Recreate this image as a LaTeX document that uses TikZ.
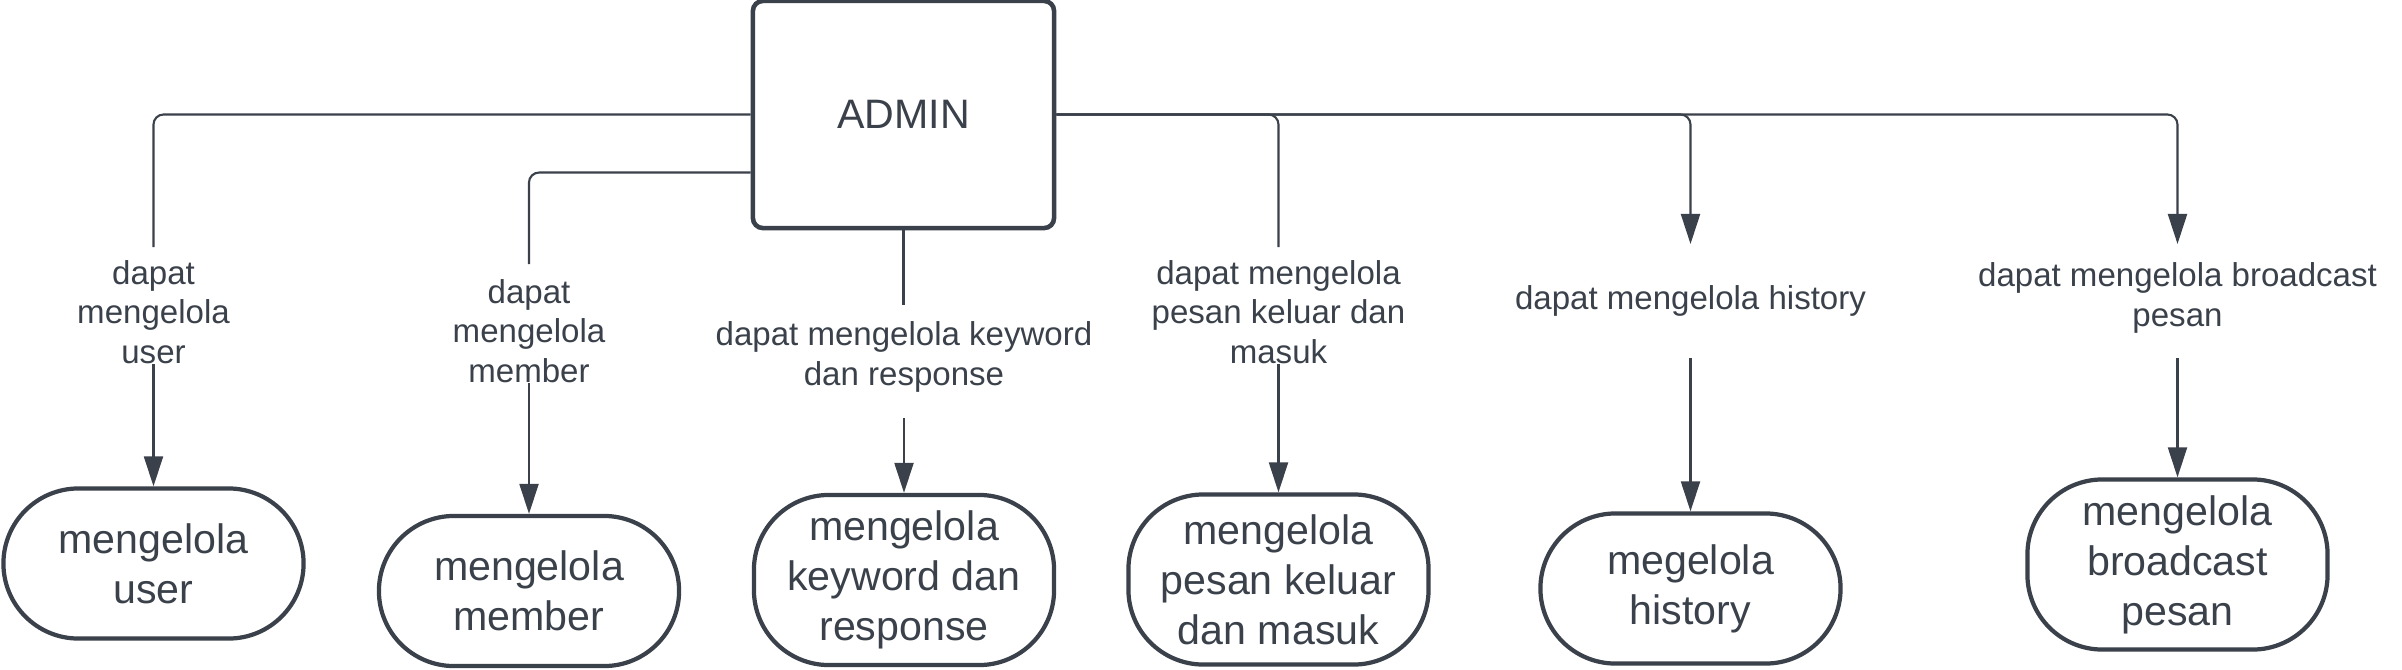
\documentclass[tikz,border=0pt]{standalone}
\usepackage{fontspec}
\setmainfont{Liberation Sans}
\usepackage{xcolor}
\usetikzlibrary{positioning,shapes,arrows.meta}
\definecolor{ink}{HTML}{3A414A}

\begin{document}
\begin{tikzpicture}[x=0.01cm,y=-0.01cm,
    every node/.style={text=ink},
    proses/.style={draw=ink,line width=1.2pt,rounded corners=0.75cm,minimum width=3cm,minimum height=1.5cm,align=center,font=\fontsize{11.7}{14.2}\selectfont},
    ket/.style={align=center,inner sep=0pt,font=\fontsize{9.4}{11.2}\selectfont},
    garis/.style={draw=ink,line width=0.6pt,rounded corners=0.1cm},
    panah/.style={garis,-{Triangle[length=0.3cm,width=0.19cm]}}]
        \useasboundingbox (0,0) rectangle (2402,669);
        \node[draw=ink,line width=1.3pt,rounded corners=0.1cm,minimum width=3.01cm,minimum height=2.27cm,font=\fontsize{11.7}{14}\selectfont] (admin) at (903.5,114.5) {ADMIN};
        % kotak proses
        \node[proses] (user) at (153.5,563.5) {mengelola\\user};
        \node[proses] (member) at (529,591) {mengelola\\member};
        \node[proses,minimum height=1.7cm] (keyword) at (904,580) {mengelola\\keyword dan\\response};
        \node[proses,minimum height=1.7cm] (pesan) at (1278.5,579.5) {mengelola\\pesan keluar\\dan masuk};
        \node[proses] (history) at (1690.5,588.5) {megelola\\history};
        \node[proses,minimum height=1.7cm] (broadcast) at (2177.5,564.5) {mengelola\\broadcast\\pesan};
        % keterangan
        \node[ket] (kuser) at (153.5,312) {dapat\\mengelola\\user};
        \node[ket] (kmember) at (529,331) {dapat\\mengelola\\member};
        \node[ket] (kkeyword) at (904,357) {dapat mengelola keyword\\dan response};
        \node[ket] (kpesan) at (1278.5,312) {dapat mengelola\\pesan keluar dan\\masuk};
        \node[ket] (khistory) at (1690.5,301) {dapat mengelola history};
        \node[ket] (kbroadcast) at (2177.5,298) {dapat mengelola broadcast\\pesan};
        % ujung garis
        \coordinate (ujung1) at (153.5,247);
        \coordinate (ujung2) at (529,264);
        \coordinate (ujung3) at (903.5,305);
        \coordinate (ujung4) at (1278.5,247);
        \coordinate (ujung5) at (1690.5,244);
        \coordinate (ujung6) at (2177.5,244);
        \coordinate (mulai3) at (904,418);
        \coordinate (mulai5) at (1690.5,358);
        \coordinate (mulai6) at (2177.5,358);
        \draw[garis] (admin.west) -| (ujung1);
        \draw[garis] ([yshift=-0.58cm]admin.west) -| (ujung2);
        \draw[garis] (admin.south) -- (ujung3);
        \draw[garis] (admin.east) -| (ujung4);
        \draw[panah] (admin.east) -| (ujung5);
        \draw[panah] (admin.east) -| (ujung6);
        \draw[panah] (kuser.south) -- (user.north);
        \draw[panah] (kmember.south) -- (member.north);
        \draw[panah] (mulai3) -- (keyword.north);
        \draw[panah] (kpesan.south) -- (pesan.north);
        \draw[panah] (mulai5) -- (history.north);
        \draw[panah] (mulai6) -- (broadcast.north);
\end{tikzpicture}
\end{document}
